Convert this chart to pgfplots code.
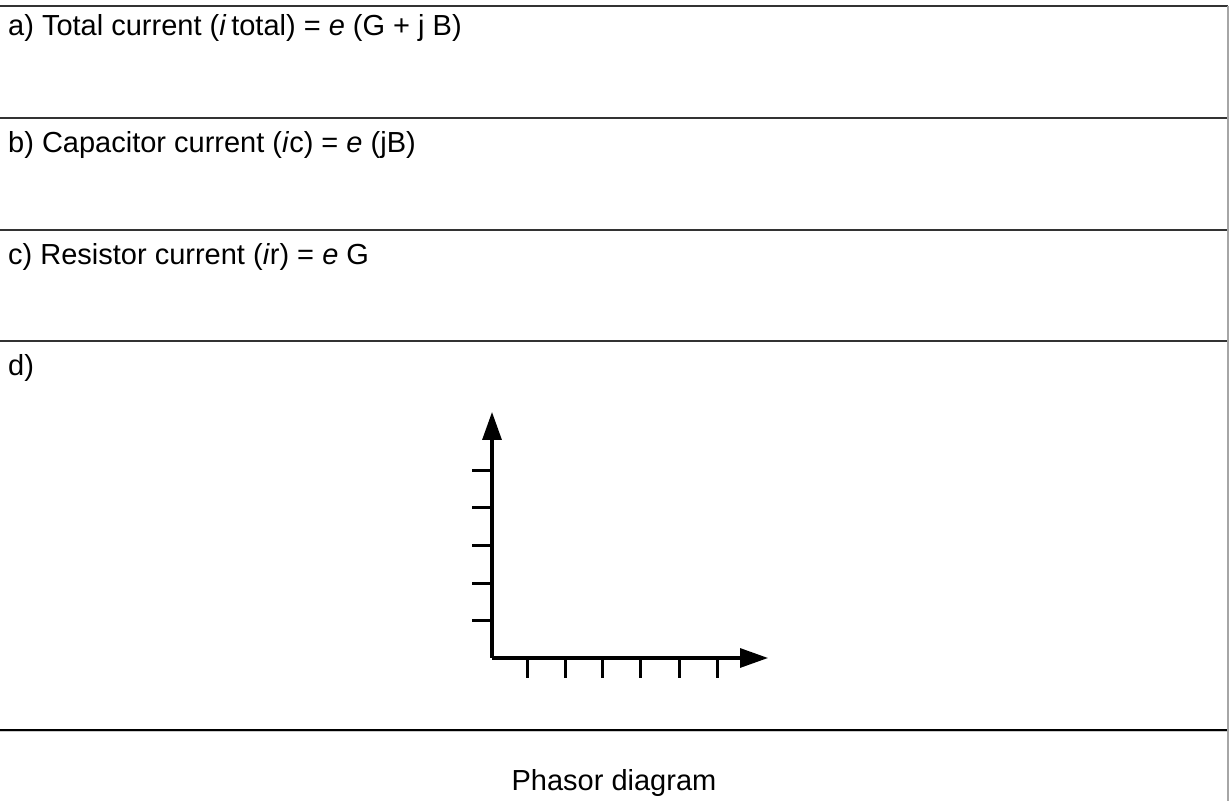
\documentclass[border=0pt]{standalone}
\usepackage{fontspec}
\setmainfont{Liberation Sans}
\usepackage{pgfplots}
\pgfplotsset{compat=1.18}
\usetikzlibrary{arrows.meta}

\begin{document}
\begin{tikzpicture}[x=1bp,y=1bp]
  \useasboundingbox (0,0) rectangle (1229,801);
  \fontsize{29bp}{34bp}\selectfont

  % table rules (image y measured from the top: 6, 118, 230, 341, 730)
  \draw[black!80, line width=1.6bp] (0,795) -- (1228,795);
  \draw[black!80, line width=1.6bp] (0,683) -- (1228,683);
  \draw[black!80, line width=1.6bp] (0,571) -- (1228,571);
  \draw[black!80, line width=1.6bp] (0,460) -- (1228,460);
  \draw[black, line width=2bp] (0,71) -- (1228,71);
  \draw[gray!40, line width=1bp] (0,69) -- (1228,69);
  \draw[gray!70, line width=1.4bp] (1228,795) -- (1228,0);

  % row texts
  \node[anchor=base west, inner sep=0pt] at (8,765)
    {a) Total current (\textit{i}\,total) = \textit{e} (G + j B)};
  \node[anchor=base west, inner sep=0pt] at (8,648)
    {b) Capacitor current (\textit{i}c) = \textit{e} (jB)};
  \node[anchor=base west, inner sep=0pt] at (8,536)
    {c) Resistor current (\textit{i}r) = \textit{e} G};
  \node[anchor=base west, inner sep=0pt] at (8,425) {d)};
  \node[anchor=base, inner sep=0pt] at (614,10) {Phasor diagram};

  % phasor diagram axes
  \begin{axis}[
      at={(492,143)},
      anchor=south west,
      scale only axis,
      width=276bp,
      height=246bp,
      xmin=0, xmax=276,
      ymin=0, ymax=246,
      axis lines=left,
      x axis line style={line width=3.2bp, black,
        -{Triangle[length=28bp,width=19bp]}},
      y axis line style={line width=3.2bp, black,
        -{Triangle[length=28bp,width=19bp]}},
      xtick={35,73,110,148,187,225},
      ytick={37,74,112,150,187},
      xticklabels={},
      yticklabels={},
      tick align=outside,
      major tick length=20bp,
      major tick style={line width=3bp, black},
      xtick style={line width=3bp, black},
      ytick style={line width=3bp, black},
    ]
    \addplot[draw=none, forget plot] coordinates {(0,0) (276,246)};
  \end{axis}
\end{tikzpicture}
\end{document}
